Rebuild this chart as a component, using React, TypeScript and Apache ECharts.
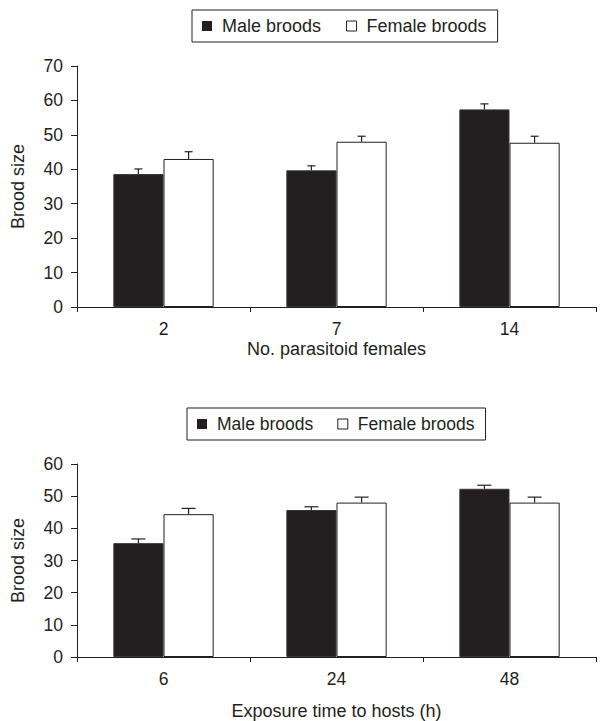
import React, { useEffect, useRef } from "react";
import * as echarts from "echarts";

const legendNames = ["Male broods", "Female broods"];

const topCategories = ["2", "7", "14"];
const topMale = [38.6, 39.7, 57.4];
const topMaleErr = [1.5, 1.3, 1.6];
const topFemale = [43.0, 48.0, 47.7];
const topFemaleErr = [2.1, 1.6, 1.9];

const bottomCategories = ["6", "24", "48"];
const bottomMale = [35.4, 45.7, 52.3];
const bottomMaleErr = [1.3, 1.0, 1.1];
const bottomFemale = [44.4, 48.0, 48.0];
const bottomFemaleErr = [1.8, 1.7, 1.7];

const topAxisName = "No. parasitoid females";
const bottomAxisName = "Exposure time to hosts (h)";
const yAxisName = "Brood size";

const INK = "#231f20";
const FONT = "'Liberation Sans', Arial, sans-serif";
const GAP = 0.42;

function errorSeries(
  name: string,
  values: number[],
  errs: number[],
  side: number,
  axisIndex: number,
  capHalf: number
) {
  return {
    type: "custom",
    name,
    xAxisIndex: axisIndex,
    yAxisIndex: axisIndex,
    z: 5,
    silent: true,
    data: values.map((v, i) => [i, v, errs[i]]),
    renderItem: (params: any, api: any) => {
      const idx = api.value(0);
      const v = api.value(1);
      const e = api.value(2);
      const catW = api.size([1, 0])[0];
      const barW = (catW * (1 - GAP)) / 2;
      const base = api.coord([idx, v]);
      const top = api.coord([idx, v + e]);
      const x = base[0] + (side * barW) / 2;
      const st = { stroke: INK, lineWidth: 1.2 };
      return {
        type: "group",
        children: [
          { type: "line", shape: { x1: x, y1: base[1], x2: x, y2: top[1] }, style: st },
          { type: "line", shape: { x1: x - capHalf, y1: top[1], x2: x + capHalf, y2: top[1] }, style: st },
        ],
      };
    },
  };
}

function legendCfg(left: number, top: number, fontSize: number, itemGap: number) {
  return {
    data: [
      { name: legendNames[0], icon: "rect", itemStyle: { color: INK, borderColor: INK, borderWidth: 0 } },
      { name: legendNames[1], icon: "rect", itemStyle: { color: "#fff", borderColor: INK, borderWidth: 1 } },
    ],
    left,
    top,
    orient: "horizontal",
    itemWidth: 10,
    itemHeight: 10,
    itemGap,
    padding: [7, 11, 7, 10],
    borderColor: INK,
    borderWidth: 1,
    selectedMode: false,
    textStyle: { fontFamily: FONT, fontSize, color: INK, padding: [0, 0, 0, 5] },
  };
}

function xAxisCfg(cats: string[], gridIndex: number, name: string, nameGap: number) {
  return {
    type: "category",
    gridIndex,
    data: cats,
    boundaryGap: true,
    name,
    nameLocation: "middle",
    nameGap,
    nameTextStyle: { fontFamily: FONT, fontSize: 18, color: INK },
    axisLine: { show: true, lineStyle: { color: INK, width: 1 } },
    axisTick: { show: true, length: 5, lineStyle: { color: INK } },
    axisLabel: { fontFamily: FONT, fontSize: 17.5, color: INK, margin: 13 },
    splitLine: { show: false },
  };
}

function yAxisCfg(gridIndex: number, max: number) {
  return {
    type: "value",
    gridIndex,
    min: 0,
    max,
    interval: 10,
    name: yAxisName,
    nameLocation: "middle",
    nameGap: 50,
    nameTextStyle: { fontFamily: FONT, fontSize: 18, color: INK },
    axisLine: { show: true, lineStyle: { color: INK, width: 1 } },
    axisTick: { show: true, length: 6, lineStyle: { color: INK } },
    axisLabel: { fontFamily: FONT, fontSize: 17.5, color: INK, margin: 14 },
    splitLine: { show: false },
  };
}

function barSeries(name: string, values: number[], axisIndex: number, male: boolean) {
  return {
    type: "bar",
    name,
    xAxisIndex: axisIndex,
    yAxisIndex: axisIndex,
    data: values,
    barGap: "0%",
    barCategoryGap: GAP * 100 + "%",
    itemStyle: male
      ? { color: INK, borderColor: "#3a3637", borderWidth: 1 }
      : { color: "#ffffff", borderColor: INK, borderWidth: 1 },
  };
}

export default function App() {
  const ref = useRef<HTMLDivElement>(null);
  useEffect(() => {
    if (!ref.current) return;
    const chart = echarts.init(ref.current, null, { renderer: "svg" });
    chart.setOption({
      animation: false,
      backgroundColor: "#ffffff",
      textStyle: { fontFamily: FONT },
      legend: [legendCfg(192, 10, 18, 25), legendCfg(187, 408, 17.5, 24)],
      grid: [
        { left: 77, top: 66, width: 519, height: 241, containLabel: false },
        { left: 77, top: 464, width: 519, height: 195, containLabel: false },
      ],
      xAxis: [xAxisCfg(topCategories, 0, topAxisName, 33), xAxisCfg(bottomCategories, 1, bottomAxisName, 45)],
      yAxis: [yAxisCfg(0, 70), yAxisCfg(1, 60)],
      series: [
        barSeries(legendNames[0], topMale, 0, true),
        barSeries(legendNames[1], topFemale, 0, false),
        barSeries(legendNames[0], bottomMale, 1, true),
        barSeries(legendNames[1], bottomFemale, 1, false),
        errorSeries(legendNames[0] + " error", topMale, topMaleErr, -1, 0, 4),
        errorSeries(legendNames[1] + " error", topFemale, topFemaleErr, 1, 0, 4),
        errorSeries(legendNames[0] + " error", bottomMale, bottomMaleErr, -1, 1, 7),
        errorSeries(legendNames[1] + " error", bottomFemale, bottomFemaleErr, 1, 1, 7),
      ],
    });
    return () => chart.dispose();
  }, []);
  return <div ref={ref} style={{ width: 611, height: 721, position: "absolute", left: 0, top: 0 }} />;
}
